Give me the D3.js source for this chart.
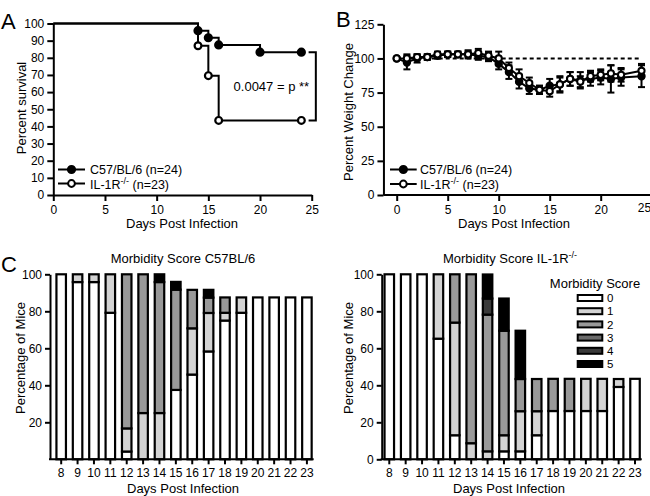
<!DOCTYPE html>
<html><head><meta charset="utf-8">
<script src="https://cdn.jsdelivr.net/npm/d3@7"></script>
<style>body{margin:0;background:#fff}svg{display:block}</style>
</head><body><svg id="c" width="650" height="496"></svg>
<script>
// ---------- DATA ----------
// Panel A: survival
const survDaysWT = [0, 14, 15, 16, 20, 24];
const survWT = [100, 95.8, 91.7, 87.5, 83.3, 83.3];
const survDaysKO = [0, 14, 15, 16, 24];
const survKO = [100, 87.0, 69.6, 43.5, 43.5];
const survTicksX = [0, 5, 10, 15, 20, 25];
const survTicksY = [0, 10, 20, 30, 40, 50, 60, 70, 80, 90, 100];
const pLabel = "0.0047 = p **";

// Panel B: weight
const weightDays = [0,1,2,3,4,5,6,7,8,9,10,11,12,13,14,15,16,17,18,19,20,21,22,24];
const weightWT = [100,97,100,101,102,103,103,103,102,101,96,90,83,78,77,80,81,85,84,85,86,85,86,87];
const errWT    = [0,5,3,2,2,2,2,2,3,3,4,5,5,4,3,5,5,5,6,5,5,10,6,8];
const weightKO = [100,100,101,101,103,103,103,103,104,102,100,93,87,82,77,76,81,85,83,87,88,89,88,91];
const errKO    = [0,3,2,2,2,2,2,3,3,3,5,4,5,4,3,4,6,5,4,4,4,6,5,5];
const weightTicksX = [0, 5, 10, 15, 20, 25];
const weightTicksY = [0, 25, 50, 75, 100, 125];

// Panel C: morbidity (percent of mice per score)
const morbDays = [8,9,10,11,12,13,14,15,16,17,18,19,20,21,22,23];
const wt0 = [100,95.8,95.8,79.2,4.2,0,0,37.5,45.8,58.3,75,79.2,87.5,87.5,87.5,87.5];
const wt1 = [0,4.2,4.2,20.8,12.5,25,25,0,25,20.8,4.2,8.3,0,0,0,0];
const wt2 = [0,0,0,0,83.3,75,70.8,54.2,20.8,8.3,8.3,0,0,0,0,0];
const wt3 = [0,0,0,0,0,0,0,0,0,0,0,0,0,0,0,0];
const wt4 = [0,0,0,0,0,0,0,0,0,0,0,0,0,0,0,0];
const wt5 = [0,0,0,0,0,0,4.2,4.2,0,4.2,0,0,0,0,0,0];
const ko0 = [100,100,100,65.2,13,0,0,4.3,4.3,13,26.1,26.1,26.1,26.1,39.1,43.5];
const ko1 = [0,0,0,34.8,60.9,8.7,4.3,8.7,21.7,13,0,0,17.4,17.4,4.3,0];
const ko2 = [0,0,0,0,26.1,91.3,73.9,56.5,17.4,17.4,17.4,17.4,0,0,0,0];
const ko3 = [0,0,0,0,0,0,0,0,0,0,0,0,0,0,0,0];
const ko4 = [0,0,0,0,0,0,8.7,0,0,0,0,0,0,0,0,0];
const ko5 = [0,0,0,0,0,0,13,17.4,26.1,0,0,0,0,0,0,0];
const scoreLabels = ["0", "1", "2", "3", "4", "5"];
const scoreColors = ["#ffffff", "#d3d3d3", "#999999", "#6b6b6b", "#3a3a3a", "#000000"];
const morbTicksLeft = [20, 40, 60, 80, 100];
const morbTicksRight = [0, 20, 40, 60, 80, 100];

// ---------- DRAW ----------
const FONT = '"Liberation Sans", Arial, Helvetica, sans-serif';
const svg = d3.select("#c").attr("font-family", FONT);

function styleAxis(g) {
  g.attr("font-family", FONT).attr("font-size", 12);
  g.selectAll(".domain").attr("stroke", "#000").attr("stroke-width", 2);
  g.selectAll(".tick line").attr("stroke", "#000").attr("stroke-width", 2);
  g.selectAll(".tick text").attr("fill", "#000");
}
function label(x, y, txt, opts = {}) {
  const t = svg.append("text").attr("x", x).attr("y", y).attr("font-size", opts.size || 13)
    .attr("text-anchor", opts.anchor || "middle").attr("dy", opts.dy || "0.35em").attr("fill", "#000").text(txt);
  return t;
}
function vlabel(cx, cy, txt) {
  svg.append("text").attr("transform", `translate(${cx},${cy}) rotate(-90)`)
    .attr("text-anchor", "middle").attr("dy", "0.35em").attr("font-size", 13).text(txt);
}
function supLabel(x, y, base, sup, tail, anchor, size) {
  const fs = size || 13;
  const t = svg.append("text").attr("x", x).attr("y", y).attr("font-size", fs)
    .attr("text-anchor", anchor || "start").attr("dy", "0.35em");
  t.append("tspan").text(base);
  t.append("tspan").attr("font-size", 9).attr("dy", -5).text(sup);
  if (tail) t.append("tspan").attr("font-size", fs).attr("dy", 5).text(tail);
  return t;
}

// Panel letters
label(1, 21, "A", {size: 22, anchor: "start", dy: 0});
label(336, 19, "B", {size: 22, anchor: "start", dy: 0});
label(1, 264, "C", {size: 22, anchor: "start", dy: 0});

// ===== Panel A =====
const xA = d3.scaleLinear().domain([0, 25]).range([53.3, 311.7]);
const yA = d3.scaleLinear().domain([0, 100]).range([195, 23.5]);
svg.append("g").attr("transform", "translate(53.3,0)")
  .call(d3.axisLeft(yA).tickValues(survTicksY).tickSize(6).tickPadding(3).tickSizeOuter(0)).call(styleAxis);
svg.append("g").attr("transform", "translate(0,195)")
  .call(d3.axisBottom(xA).tickValues(survTicksX).tickSize(6).tickPadding(4).tickSizeOuter(0)).call(styleAxis);
vlabel(21, 108, "Percent survival");
label(182, 223, "Days Post Infection");

const stepLine = (days, vals, xs, ys) => d3.line().curve(d3.curveStepAfter)
  .x((d, i) => xs(days[i])).y((d, i) => ys(vals[i]))(vals);
svg.append("path").attr("d", stepLine(survDaysKO, survKO, xA, yA)).attr("fill", "none").attr("stroke", "#000").attr("stroke-width", 2);
svg.append("path").attr("d", stepLine(survDaysWT, survWT, xA, yA)).attr("fill", "none").attr("stroke", "#000").attr("stroke-width", 2);
svg.selectAll(null).data(survWT.slice(1)).join("circle")
  .attr("cx", (d, i) => xA(survDaysWT[i + 1])).attr("cy", d => yA(d)).attr("r", 3.6)
  .attr("fill", "#000").attr("stroke", "#000").attr("stroke-width", 2);
svg.selectAll(null).data(survKO.slice(1)).join("circle")
  .attr("cx", (d, i) => xA(survDaysKO[i + 1])).attr("cy", d => yA(d)).attr("r", 3.4)
  .attr("fill", "#fff").attr("stroke", "#000").attr("stroke-width", 2.2);
// significance bracket
const bx1 = xA(24.7), bx2 = xA(25.4);
svg.append("path").attr("d", `M${bx1},${yA(survWT[survWT.length-1])}H${bx2}V${yA(survKO[survKO.length-1])}H${bx1}`)
  .attr("fill", "none").attr("stroke", "#000").attr("stroke-width", 2);
label(xA(24.75), yA(63.5), pLabel, {anchor: "end"});
// legend A
function legendRow(x0, x1, y, filled, r) {
  svg.append("line").attr("x1", x0).attr("x2", x1).attr("y1", y).attr("y2", y).attr("stroke", "#000").attr("stroke-width", 2);
  svg.append("circle").attr("cx", (x0 + x1) / 2).attr("cy", y).attr("r", r)
    .attr("fill", filled ? "#000" : "#fff").attr("stroke", "#000").attr("stroke-width", 2);
}
legendRow(58, 85, 169.5, true, 3.6);
legendRow(58, 85, 183.5, false, 3.4);
label(90, 169.5, "C57/BL/6 (n=24)", {anchor: "start", size: 12.5});
supLabel(90, 184.5, "IL-1R", "-/-", " (n=23)", "start", 12.5);

// ===== Panel B =====
const xB = d3.scaleLinear().domain([0, 25]).range([396.7, 651.7]);
const yB = d3.scaleLinear().domain([0, 125]).range([195, 24.3]);
const yAxisBX = xB(-1.3);
svg.append("g").attr("transform", `translate(${yAxisBX},0)`)
  .call(d3.axisLeft(yB).tickValues(weightTicksY).tickSize(6).tickPadding(3).tickSizeOuter(0)).call(styleAxis);
const gxB = svg.append("g").attr("transform", "translate(0,195)")
  .call(d3.axisBottom(xB).tickValues(weightTicksX).tickSize(6).tickPadding(4).tickSizeOuter(0)).call(styleAxis);
gxB.select(".domain").remove();
gxB.selectAll(".tick").filter(d => d === 25).select("text").attr("text-anchor", "end").attr("dx", -1).attr("dy", "0.55em");
svg.append("line").attr("x1", yAxisBX).attr("x2", 650).attr("y1", 195).attr("y2", 195).attr("stroke", "#000").attr("stroke-width", 2);
vlabel(348.5, 112, "Percent Weight Change");
label(514, 223.5, "Days Post Infection");
// dashed baseline
svg.append("line").attr("x1", xB(0)).attr("x2", xB(24)).attr("y1", yB(100)).attr("y2", yB(100))
  .attr("stroke", "#000").attr("stroke-width", 2).attr("stroke-dasharray", "4,3");
const wLine = vals => d3.line().x((d, i) => xB(weightDays[i])).y(d => yB(d))(vals);
svg.append("path").attr("d", wLine(weightWT)).attr("fill", "none").attr("stroke", "#000").attr("stroke-width", 2);
svg.append("path").attr("d", wLine(weightKO)).attr("fill", "none").attr("stroke", "#000").attr("stroke-width", 2);
function errBars(vals, errs) {
  const g = svg.append("g").attr("stroke", "#000").attr("stroke-width", 2);
  vals.forEach((v, i) => {
    if (!errs[i]) return;
    const x = xB(weightDays[i]);
    g.append("line").attr("x1", x).attr("x2", x).attr("y1", yB(v - errs[i])).attr("y2", yB(v + errs[i]));
    g.append("line").attr("x1", x - 3.5).attr("x2", x + 3.5).attr("y1", yB(v - errs[i])).attr("y2", yB(v - errs[i]));
    g.append("line").attr("x1", x - 3.5).attr("x2", x + 3.5).attr("y1", yB(v + errs[i])).attr("y2", yB(v + errs[i]));
  });
}
errBars(weightWT, errWT);
errBars(weightKO, errKO);
svg.selectAll(null).data(weightWT).join("circle")
  .attr("cx", (d, i) => xB(weightDays[i])).attr("cy", d => yB(d)).attr("r", 3.2)
  .attr("fill", "#000").attr("stroke", "#000").attr("stroke-width", 2);
svg.selectAll(null).data(weightKO).join("circle")
  .attr("cx", (d, i) => xB(weightDays[i])).attr("cy", d => yB(d)).attr("r", 3.1)
  .attr("fill", "#fff").attr("stroke", "#000").attr("stroke-width", 2);
legendRow(390, 416.7, 169.5, true, 3.6);
legendRow(390, 416.7, 184, false, 3.4);
label(420, 169.5, "C57/BL/6 (n=24)", {anchor: "start", size: 12.5});
supLabel(420, 185, "IL-1R", "-/-", " (n=23)", "start", 12.5);

// ===== Panel C =====
function morbChart(opts) {
  const {axisX, rangeX, ticksY, series, titleBase, titleSup, titleX, ylabX, xlabX} = opts;
  const y = d3.scaleLinear().domain([0, 100]).range([459.3, 274.3]);
  const x = d3.scaleBand().domain(morbDays).range(rangeX).paddingInner(0.42).paddingOuter(0.21);
  const bw = x.bandwidth();
  const rows = morbDays.map((d, i) => {
    const r = {day: d};
    series.forEach((s, k) => r["s" + k] = s[i]);
    return r;
  });
  const keys = series.map((s, k) => "s" + k);
  const stacked = d3.stack().keys(keys)(rows);
  stacked.forEach((layer, k) => {
    svg.append("g").selectAll("rect").data(layer.filter(d => d[1] - d[0] > 0)).join("rect")
      .attr("x", d => x(d.data.day)).attr("width", bw)
      .attr("y", d => y(d[1])).attr("height", d => y(d[0]) - y(d[1]))
      .attr("fill", scoreColors[k]).attr("stroke", "#000").attr("stroke-width", 2.2);
  });
  svg.append("g").attr("transform", `translate(${axisX},0)`)
    .call(d3.axisLeft(y).tickValues(ticksY).tickSize(5).tickPadding(3).tickSizeOuter(0)).call(styleAxis);
  const gx = svg.append("g").attr("transform", "translate(0,459.3)")
    .call(d3.axisBottom(x).tickSize(5).tickPadding(4).tickSizeOuter(0)).call(styleAxis);
  gx.select(".domain").remove();
  svg.append("line").attr("x1", axisX - 1).attr("x2", x(23) + bw + 2).attr("y1", 459.3).attr("y2", 459.3)
    .attr("stroke", "#000").attr("stroke-width", 2);
  vlabel(ylabX, 358, "Percentage of Mice");
  label(xlabX, 488.5, "Days Post Infection");
  if (titleSup) supLabel(titleX, 258.5, titleBase, titleSup, null, "middle");
  else label(titleX, 258.5, titleBase);
}
morbChart({axisX: 50, rangeX: [53, 315.1], ticksY: morbTicksLeft,
  series: [wt0, wt1, wt2, wt3, wt4, wt5], titleBase: "Morbidity Score C57BL/6", titleX: 183, ylabX: 20, xlabX: 183});
morbChart({axisX: 381.7, rangeX: [381.1, 643.2], ticksY: morbTicksRight,
  series: [ko0, ko1, ko2, ko3, ko4, ko5], titleBase: "Morbidity Score IL-1R", titleSup: "-/-", titleX: 510, ylabX: 348.5, xlabX: 509});

// Legend C
label(595, 283.5, "Morbidity Score");
const legG = svg.append("g");
scoreLabels.forEach((s, k) => {
  const cy = 298 + k * 13.2;
  legG.append("rect").attr("x", 577.7).attr("y", cy - 3).attr("width", 24.6).attr("height", 6)
    .attr("fill", scoreColors[k]).attr("stroke", "#000").attr("stroke-width", 2);
  legG.append("text").attr("x", 607).attr("y", cy).attr("dy", "0.36em").attr("font-size", 11.5).text(s);
});
</script></body></html>
